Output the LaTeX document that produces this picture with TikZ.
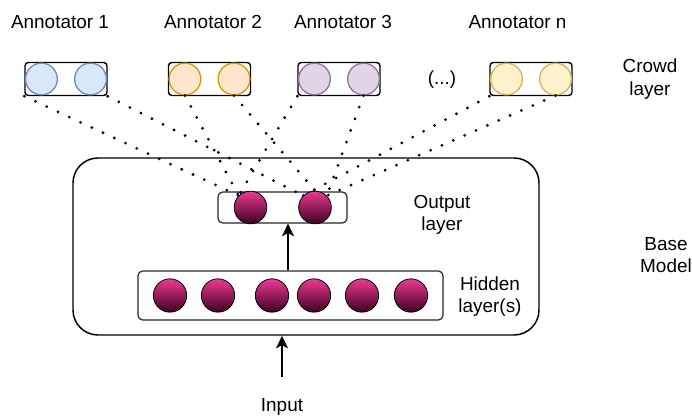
\documentclass[tikz,border=0pt]{standalone}
\usepackage{fontspec}
\setmainfont{Liberation Sans}
\usepackage{xcolor}
\usepackage{tikz}
\usetikzlibrary{arrows.meta,positioning}

\definecolor{fillblue}{HTML}{DAE8FC}
\definecolor{lineblue}{HTML}{6C8EBF}
\definecolor{fillorange}{HTML}{FFE6CC}
\definecolor{lineorange}{HTML}{D79B00}
\definecolor{fillpurple}{HTML}{E1D5E7}
\definecolor{linepurple}{HTML}{9673A6}
\definecolor{fillyellow}{HTML}{FFF2CC}
\definecolor{lineyellow}{HTML}{D6B656}
\definecolor{neurontop}{HTML}{EC3A93}
\definecolor{neuronbot}{HTML}{3E0020}

\begin{document}
\begin{tikzpicture}[
  x=0.75pt, y=-0.75pt,
  every node/.style={font=\fontsize{14.2}{17}\selectfont},
  crowdbox/.style={draw=black, line width=1.1pt, rounded corners=2.5pt,
    minimum width=61.5pt, minimum height=24.75pt, inner sep=0pt},
  crowdcirc/.style={circle, line width=1pt, minimum size=23.8pt, inner sep=0pt},
  layerbox/.style={draw=black!85, line width=0.9pt, rounded corners=3.5pt, inner sep=0pt},
  neuron/.style={circle, draw=black, line width=0.6pt, minimum size=24.5pt,
    inner sep=0pt, top color=neurontop, bottom color=neuronbot},
  dots/.style={line width=2.3pt, line cap=round, dash pattern=on 0pt off 9.3pt},
  arr/.style={-{Stealth[length=9.5pt, width=9pt, inset=2.5pt]}, line width=1.1pt},
]

\useasboundingbox (0,0) rectangle (692,417);

%% Base model
\node[draw=black, line width=1.1pt, rounded corners=18.75pt,
      minimum width=349.5pt, minimum height=132.75pt, inner sep=0pt]
  (base) at (306,246.5) {};
\node[align=center] (baselab) at (666,255) {Base\\Model};

%% Hidden layer(s)
\node[layerbox, minimum width=228.75pt, minimum height=36.75pt] (hid) at (290.5,295.5) {};
\foreach \i/\x in {1/170, 2/218, 3/272, 4/314, 5/362, 6/411}
  \node[neuron, minimum size=25pt] (h\i) at (\x,295.5) {};
\node[align=center] (hidlab) at (490,296.5) {Hidden\\layer(s)};

%% Output layer
\node[layerbox, minimum width=96.75pt, minimum height=23.25pt] (out) at (282.5,207.5) {};
\node[neuron] (o1) at (250.5,207.5) {};
\node[neuron] (o2) at (315,207.5) {};
\node[align=center] (outlab) at (442,215) {Output\\layer};

\draw[arr] (288,0 |- hid.north) -- (288,0 |- out.south);

%% Input
\node (input) at (282,407) {Input};
\draw[arr] ([yshift=12.5pt]input.north) -- (input |- base.south);

%% Crowd layer
\foreach \k/\x/\col in {1/66/blue, 2/209.5/orange, 3/339/purple, n/531/yellow} {
  \node[crowdbox] (a\k) at (\x,79) {};
  \node[crowdcirc, fill=fill\col, draw=line\col, right=0.5pt of a\k.west] (a\k-c1) {};
  \node[crowdcirc, fill=fill\col, draw=line\col, left=0.5pt of a\k.east] (a\k-c2) {};
}
\node (lab1) at (60,22) {Annotator 1};
\node (lab2) at (213,22) {Annotator 2};
\node (lab3) at (343,22) {Annotator 3};
\node (labn) at (517.5,22) {Annotator n};
\node (etc) at (442,80) {(...)};
\node[align=center] (crowdlab) at (650,79) {Crowd\\layer};

%% Dotted connections crowd -> output
\draw[dots] (a1.south west) -- (o1.north west);
\draw[dots] (a1.south east) -- (o2.north west);
\draw[dots] (a2-c1.south) -- (o1.north west);
\draw[dots] (a2-c2.south) -- (o2.north);
\draw[dots] (a3.south west) -- (o1.north west);
\draw[dots] (a3-c2.south) -- (o2.north east);
\draw[dots] (an.south west) -- (o2.north west);
\draw[dots] (an-c2.south) -- (o2.north east);

\end{tikzpicture}
\end{document}
